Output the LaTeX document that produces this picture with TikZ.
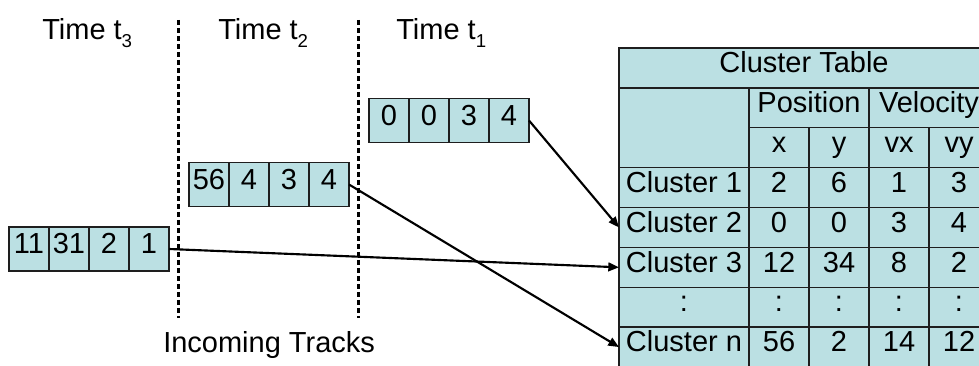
\documentclass[tikz,border=0pt]{standalone}
\usepackage{fontspec}
\setmainfont{Liberation Sans}
\usetikzlibrary{arrows.meta}
\definecolor{cellfill}{RGB}{187,224,227}
\definecolor{rule}{RGB}{30,30,30}
\newcommand{\tsub}[1]{\raisebox{-6pt}{\fontsize{14pt}{14pt}\selectfont #1}}
\begin{document}
\begin{tikzpicture}[x=0.75pt,y=-0.75pt,
  font=\fontsize{21.75pt}{26pt}\selectfont,
  cell/.style 2 args={draw=rule, line width=1pt, fill=cellfill,
    inner sep=0pt, outer sep=0pt,
    minimum width=#1*0.75pt, minimum height=#2*0.75pt,
    text height=0.716em, text depth=0pt},
  trk/.style={cell={40}{44}},
  tab/.style={cell={60}{39.875}},
  rowhead/.style={cell={130}{39.875}},
  link/.style={line width=1.6pt, -{Triangle[length=8pt,width=6.5pt]}},
  divider/.style={line width=1.8pt, dash pattern=on 4pt off 2pt},
  caption/.style={inner sep=0pt, anchor=base west}]
\useasboundingbox (0,0) rectangle (979,366);

% time slots
\draw[divider] (178.5,20) -- (178.5,318);
\draw[divider] (358.5,20) -- (358.5,318);
\node[caption] (lab3) at (42,40)  {Time t\tsub{3}};
\node[caption] (lab2) at (218,40) {Time t\tsub{2}};
\node[caption] (lab1) at (396,40) {Time t\tsub{1}};
\node[caption] (inc)  at (163,353) {Incoming Tracks};

% incoming tracks
\node[trk] (t1a) at (389,120.5) {0};
\node[trk] (t1b) at (429,120.5) {0};
\node[trk] (t1c) at (469,120.5) {3};
\node[trk] (t1d) at (509,120.5) {4};

\node[trk] (t2a) at (209,184.5) {56};
\node[trk] (t2b) at (249,184.5) {4};
\node[trk] (t2c) at (289,184.5) {3};
\node[trk] (t2d) at (329,184.5) {4};

\node[trk] (t3a) at (29,249) {11};
\node[trk] (t3b) at (69,249) {31};
\node[trk] (t3c) at (109,249) {2};
\node[trk] (t3d) at (149,249) {1};

% cluster table
\node[cell={370}{39.875}] (title) at (804,67.94) {Cluster Table};
\node[cell={130}{79.75}] (corner) at (684,127.75) {};
\node[cell={120}{39.875}] (pos) at (809,107.81) {Position};
\node[cell={120}{39.875}] (vel) at (929,107.81) {Velocity};
\node[tab] (hx)  at (779,147.69) {x};
\node[tab] (hy)  at (839,147.69) {y};
\node[tab] (hvx) at (899,147.69) {vx};
\node[tab] (hvy) at (959,147.69) {vy};

\foreach \i/\lab/\a/\b/\c/\d in
  {1/Cluster 1/2/6/1/3, 2/Cluster 2/0/0/3/4, 3/Cluster 3/12/34/8/2,
   4/:/:/:/:/:, 5/Cluster n/56/2/14/12}
{
  \node[rowhead] (r\i) at (684,147.69+39.875*\i) {\lab};
  \node[tab] (r\i x)  at (779,147.69+39.875*\i) {\a};
  \node[tab] (r\i y)  at (839,147.69+39.875*\i) {\b};
  \node[tab] (r\i vx) at (899,147.69+39.875*\i) {\c};
  \node[tab] (r\i vy) at (959,147.69+39.875*\i) {\d};
}

% track-to-cluster associations
\draw[link] (t1d.east) -- (r2.west);
\draw[link] (t3d.east) -- (r3.west);
\draw[link] (t2d.east) -- (r5.west);
\end{tikzpicture}
\end{document}
